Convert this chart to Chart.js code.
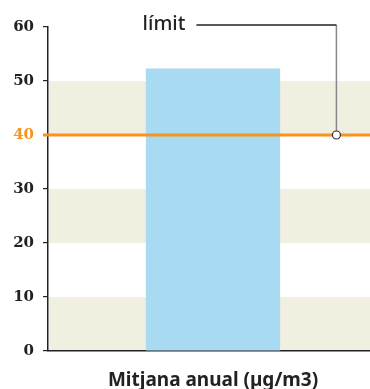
<!DOCTYPE html>
<html>
<head>
<meta charset="utf-8">
<script src="https://cdn.jsdelivr.net/npm/chart.js@4"></script>
<style>
    html, body { margin: 0; padding: 0; background: #fff; overflow: hidden; }
    #wrap { width: 378px; height: 389px; position: relative; }
</style>
</head>
<body>
<div id="wrap"><canvas id="chart"></canvas></div>
<script>
// dades
const categories = ["Mitjana anual (µg/m3)"];
const values = [52.3];
const yTicks = [0, 10, 20, 30, 40, 50, 60];
const bands = [[0, 10], [20, 30], [40, 50]];
const limitValue = 40;
const limitLabel = "límit";

const ORANGE = "#f7941d";
const INK = "#222";

// franges de fons, línia del límit i anotació
const extras = {
    id: "extras",
    beforeDraw(chart) {
        const { ctx, chartArea, scales: { y } } = chart;
        ctx.save();
        ctx.fillStyle = "#f1efdf";
        bands.forEach(([a, b]) => {
            const top = y.getPixelForValue(b);
            const bot = y.getPixelForValue(a);
            ctx.fillRect(chartArea.left + 1, top, chartArea.right - chartArea.left - 1, bot - top);
        });
        ctx.restore();
    },
    afterDatasetsDraw(chart) {
        const { ctx, chartArea, scales: { y } } = chart;
        const ly = y.getPixelForValue(limitValue);
        ctx.save();
        // línia taronja
        ctx.strokeStyle = ORANGE;
        ctx.lineWidth = 3;
        ctx.beginPath();
        ctx.moveTo(chartArea.left - 5, ly);
        ctx.lineTo(chartArea.right, ly);
        ctx.stroke();

        // anotació
        const cx = chartArea.left + (chartArea.right - chartArea.left) * 0.874;
        const ty = y.getPixelForValue(60) - 2;
        ctx.strokeStyle = "#888";
        ctx.lineWidth = 1.5;
        ctx.beginPath();
        ctx.moveTo(cx, ty);
        ctx.lineTo(cx, ly - 4);
        ctx.stroke();
        ctx.strokeStyle = INK;
        ctx.beginPath();
        ctx.moveTo(cx - 140, ty);
        ctx.lineTo(cx, ty);
        ctx.stroke();

        ctx.fillStyle = "#fff";
        ctx.strokeStyle = "#333";
        ctx.lineWidth = 1.2;
        ctx.beginPath();
        ctx.arc(cx, ly, 4, 0, Math.PI * 2);
        ctx.fill();
        ctx.stroke();

        ctx.fillStyle = INK;
        ctx.font = "500 20px 'Noto Sans'";
        ctx.textAlign = "right";
        ctx.textBaseline = "alphabetic";
        ctx.fillText(limitLabel, cx - 151, 30);
        ctx.restore();
    }
};

new Chart(document.getElementById("chart"), {
    type: "bar",
    data: {
        labels: categories,
        datasets: [{
            data: values,
            backgroundColor: "#a8daf1",
            borderWidth: 0,
            categoryPercentage: 1,
            barPercentage: 0.407
        }]
    },
    options: {
        responsive: true,
        maintainAspectRatio: false,
        animation: false,
        layout: { padding: { top: 27, left: 0, right: 0, bottom: 0 } },
        plugins: { legend: { display: false }, tooltip: { enabled: false } },
        scales: {
            x: {
                grid: { display: false },
                border: { display: true, color: INK, width: 1.5 },
                ticks: {
                    padding: 10,
                    color: INK,
                    font: { family: "'Noto Sans'", size: 19, weight: "bold" }
                },
                afterFit(scale) { scale.height = 38; }
            },
            y: {
                min: 0,
                max: 60,
                afterBuildTicks(scale) { scale.ticks = yTicks.map(v => ({ value: v })); },
                grid: { drawOnChartArea: false, drawTicks: true, tickLength: 5, color: INK, lineWidth: 1.2 },
                border: { display: true, color: INK, width: 1.5 },
                ticks: {
                    padding: 9,
                    color: ctx => ctx.tick.value === limitValue ? ORANGE : INK,
                    font: { family: "'DejaVu Serif'", size: 15, weight: "bold" }
                },
                afterFit(scale) { scale.width = 48; }
            }
        }
    },
    plugins: [extras]
});
</script>
</body>
</html>
